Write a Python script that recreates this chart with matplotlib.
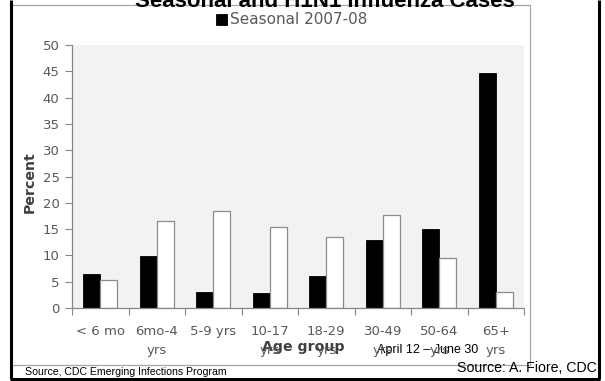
import matplotlib
matplotlib.use("Agg")
import matplotlib.pyplot as plt
from matplotlib.patches import Rectangle
import numpy as np

# data
age_groups = ["< 6 mo", "6mo-4\nyrs", "5-9 yrs", "10-17\nyrs", "18-29\nyrs",
              "30-49\nyrs", "50-64\nyrs", "65+\nyrs"]
seasonal = [6.4, 9.8, 3.0, 2.8, 6.0, 12.9, 15.0, 44.7]
h1n1 = [5.4, 16.6, 18.5, 15.4, 13.5, 17.6, 9.6, 3.1]
y_ticks = list(range(0, 55, 5))

W, H = 605, 381
GRAY = "#595959"
AX_GRAY = "#868686"

fig = plt.figure(figsize=(W / 100, H / 100), dpi=100)

# background axis in pixel coords (y down) for frame and loose text
bg = fig.add_axes([0, 0, 1, 1], zorder=0)
bg.set_xlim(0, W); bg.set_ylim(H, 0); bg.axis("off")
bg.add_patch(Rectangle((11, 4.5), 519, 360.5, fill=False, ec="#a6a6a6", lw=0.9))
bg.plot([10.5, 10.5], [0, 378.5], color="black", lw=2.2, solid_capstyle="butt")
bg.plot([599, 599], [0, 378.5], color="black", lw=2.2, solid_capstyle="butt")
bg.plot([9.7, 599.8], [378.5, 378.5], color="black", lw=2.2, solid_capstyle="butt")

bg.text(325, 7, "Seasonal and H1N1 Influenza Cases", ha="center", va="baseline",
        fontsize=16, fontweight="bold", family="Liberation Sans", color="black")
bg.text(303, 347, "Age group", ha="center", va="center", fontsize=10.2,
        fontweight="bold", color="#404040")
bg.text(30, 182, "Percent", ha="center", va="center", rotation=90, fontsize=10.2,
        fontweight="bold", color="#404040")
bg.text(428, 350, "April 12 \u2013 June 30", ha="center", va="center", fontsize=9,
        family="Liberation Sans", color="black")
bg.text(597, 368, "Source: A. Fiore, CDC", ha="right", va="center", fontsize=10.2,
        family="Liberation Sans", color="black")
bg.text(25, 372, "Source, CDC Emerging Infections Program", ha="left", va="center",
        fontsize=7.6, family="Liberation Sans", color="black")

# main chart
ax = fig.add_axes([72 / W, 1 - 308 / H, 452 / W, 263 / H], zorder=1)
ax.set_facecolor("#f2f2f2")
x = np.arange(len(age_groups))
bw = 0.3
ax.bar(x - bw / 2, seasonal, bw, color="black", edgecolor="black", lw=0.6,
       label="Seasonal 2007-08")
ax.bar(x + bw / 2, h1n1, bw, color="white", edgecolor="#8c8c8c", lw=0.9)

ax.set_xlim(-0.5, len(age_groups) - 0.5)
ax.set_ylim(0, 50)
ax.set_yticks(y_ticks)
ax.tick_params(axis="y", colors=AX_GRAY, labelcolor=GRAY, labelsize=9.5,
               length=5, width=0.8, pad=4)
ax.set_xticks(x)
ax.set_xticklabels(age_groups, linespacing=1.6)
ax.set_xticks(np.arange(-0.5, len(age_groups)), minor=True)
ax.tick_params(axis="x", which="major", length=0, labelcolor=GRAY, labelsize=9.5, pad=12)
ax.tick_params(axis="x", which="minor", length=5, width=0.8, colors=AX_GRAY)
for s in ("top", "right"):
    ax.spines[s].set_visible(False)
for s in ("left", "bottom"):
    ax.spines[s].set_color(AX_GRAY)
    ax.spines[s].set_linewidth(0.9)

ax.legend(loc="center", bbox_to_anchor=(292 / W, 1 - 20 / H),
          bbox_transform=fig.transFigure, frameon=False, fontsize=11,
          labelcolor=GRAY, handlelength=0.7, handleheight=0.7, handletextpad=0.2,
          borderpad=0)

fig.savefig("out.png", dpi=100)
